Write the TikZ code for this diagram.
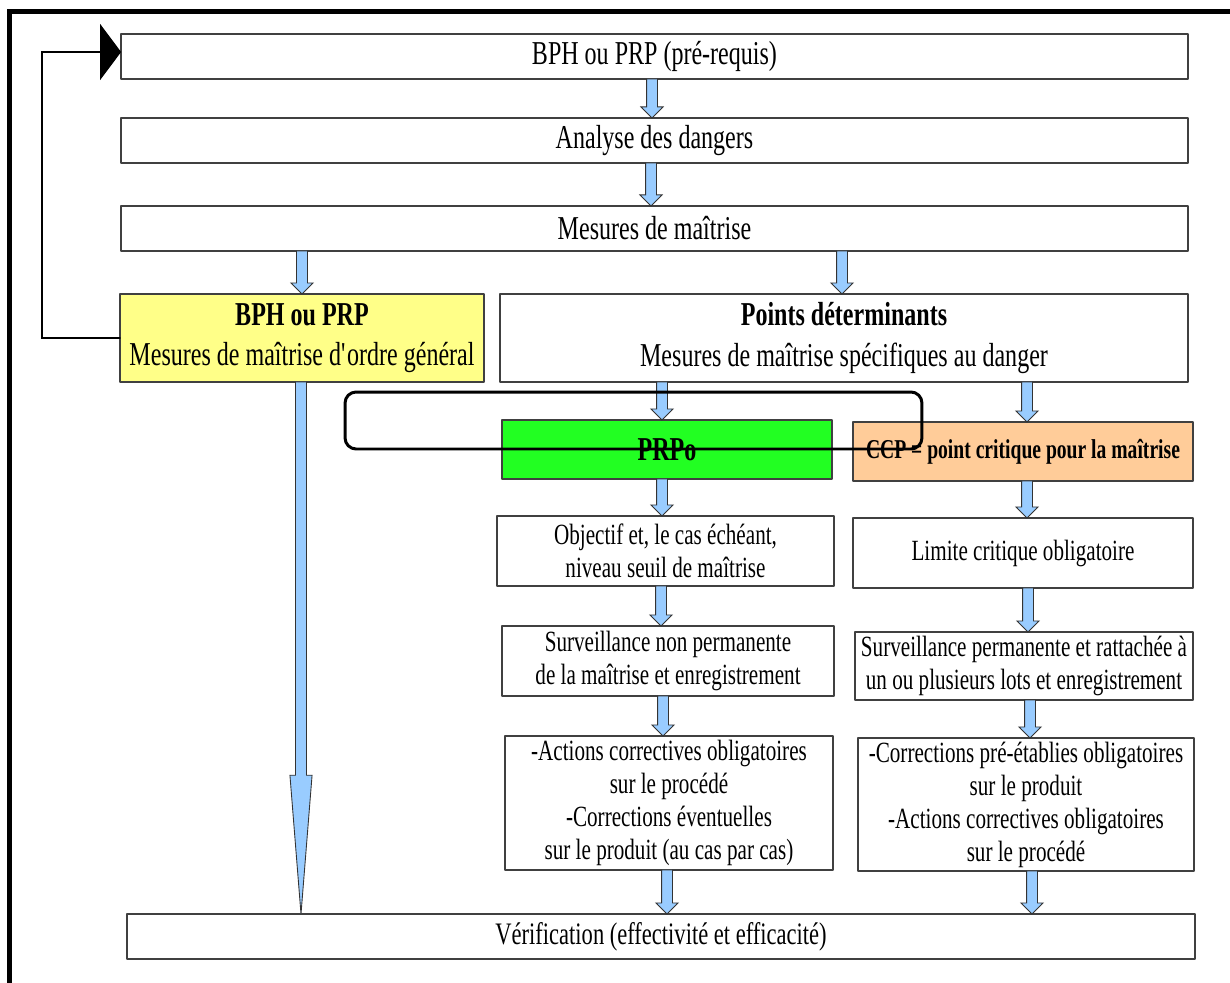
\documentclass[tikz,border=0pt]{standalone}
\usepackage{fontspec}
\setmainfont{Liberation Serif}[FakeStretch=0.72]
\usetikzlibrary{arrows.meta,calc}

\definecolor{boxline}{HTML}{404040}
\definecolor{arrowblue}{HTML}{99CCFF}
\definecolor{bphyellow}{HTML}{FFFF88}
\definecolor{prpgreen}{HTML}{22FF22}
\definecolor{ccporange}{HTML}{FFCC99}

\tikzset{
	stage/.style={draw=boxline, line width=0.9pt, fill=white, inner sep=2pt, outer sep=0pt,
		align=center, font=\fontsize{19}{22.8}\selectfont},
	substage/.style={stage, font=\fontsize{16.7}{18.8}\selectfont},
	flowarrow/.style={draw=black!80, fill=arrowblue, line width=0.5pt, line join=miter},
}

\begin{document}
\begin{tikzpicture}[x=0.02cm, y=-0.02cm, line cap=round, line join=round]
			
			% Canvas and outer frame
			\clip (0,0) rectangle (1230,983);
			\fill[white] (0,0) rectangle (1230,983);
			\draw[line width=2.9pt, line join=miter] (9.5,1100) -- (9.5,11.5) -- (1300,11.5);
			
			% Main chain
			\node[stage, minimum width=21.34cm, minimum height=0.9cm] (prereq) at (654.5,56.5) {BPH ou PRP (pré-requis)};
			\node[stage, minimum width=21.34cm, minimum height=0.9cm] (analyse) at (654.5,140.5) {Analyse des dangers};
			\node[stage, minimum width=21.34cm, minimum height=0.9cm] (mesures) at (654.5,228.5) {Mesures de maîtrise};
			
			% Two branches
			\node[stage, fill=bphyellow, minimum width=7.28cm, minimum height=1.76cm] (bph) at (302,338)
				{\textbf{BPH ou PRP}\\Mesures de maîtrise d\textquotesingle ordre général};
			\node[stage, minimum width=13.76cm, minimum height=1.76cm] (points) at (844,338)
				{\textbf{Points déterminants}\\Mesures de maîtrise spécifiques au danger};
			\node[stage, fill=prpgreen, minimum width=6.6cm, minimum height=1.18cm,
				font=\bfseries\fontsize{19}{20}\selectfont] (prpo) at (667,449.5) {PRPo};
			\node[stage, fill=ccporange, minimum width=6.8cm, minimum height=1.18cm,
				font=\bfseries\fontsize{15.5}{17}\selectfont] (ccp) at (1023,451.5) {CCP = point critique pour la maîtrise};
			
			% PRPo column
			\node[substage, minimum width=6.74cm, minimum height=1.4cm] (objectif) at (665.5,551)
				{Objectif et, le cas échéant,\\niveau seuil de maîtrise};
			\node[substage, minimum width=6.64cm, minimum height=1.4cm] (surv) at (668,661)
				{Surveillance non permanente\\de la maîtrise et enregistrement};
			\node[substage, minimum width=6.56cm, minimum height=2.68cm] (actions) at (669,803)
				{-Actions correctives obligatoires\\sur le procédé\\-Corrections éventuelles\\sur le produit (au cas par cas)};
			
			% CCP column
			\node[substage, minimum width=6.8cm, minimum height=1.4cm] (limite) at (1023,553)
				{Limite critique obligatoire};
			\node[substage, minimum width=6.76cm, minimum height=1.36cm] (survp) at (1024,666)
				{Surveillance permanente et rattachée à\\un ou plusieurs lots et enregistrement};
			\node[substage, minimum width=6.72cm, minimum height=2.66cm] (corr) at (1026,804.5)
				{-Corrections pré-établies obligatoires\\sur le produit\\-Actions correctives obligatoires\\sur le procédé};
			
			\node[stage, minimum width=21.36cm, minimum height=0.9cm, font=\fontsize{17.8}{20}\selectfont] (verif) at (661,936.5)
				{Vérification (effectivité et efficacité)};
			
			% Block arrows
			\foreach \ax/\src/\dst/\hl in {652/prereq/analyse/6.3pt, 651/analyse/mesures/6.3pt,
				302/mesures/bph/6.3pt, 842/mesures/points/6.3pt,
				662/points/prpo/6.3pt, 1027/points/ccp/6.3pt,
				662/prpo/objectif/6.3pt, 1027/ccp/limite/6.3pt,
				661/objectif/surv/6.3pt, 1028/limite/survp/6.3pt,
				663/surv/actions/6.3pt, 1030/survp/corr/6.3pt,
				667/actions/verif/6.3pt, 1032/corr/verif/6.3pt,
				301/bph/verif/79pt} {
				\filldraw[flowarrow] let \p1=(\src.south -| \ax,0), \p2=(\dst.north -| \ax,0) in
					(\x1-3.1pt,\y1) -- (\x1+3.1pt,\y1) -- (\x1+3.1pt,\y2+\hl) -- (\x1+6.3pt,\y2+\hl)
					-- (\x1,\y2) -- (\x1-6.3pt,\y2+\hl) -- (\x1-3.1pt,\y2+\hl) -- cycle;
			}
			
			% Feedback loop
			\coordinate (loopcorner) at (42,52);
			\draw[line width=0.8pt, line join=miter, -{Triangle[length=12pt, width=32pt]}]
				(bph.west) -| (loopcorner) -- (prereq.west |- loopcorner);
			
			% Highlight frame
			\node[draw, line width=1.7pt, rounded corners=0.22cm, minimum width=11.54cm, minimum height=1.14cm,
				inner sep=0pt] (highlight) at (633.5,420.5) {};
			
		\end{tikzpicture}
\end{document}
